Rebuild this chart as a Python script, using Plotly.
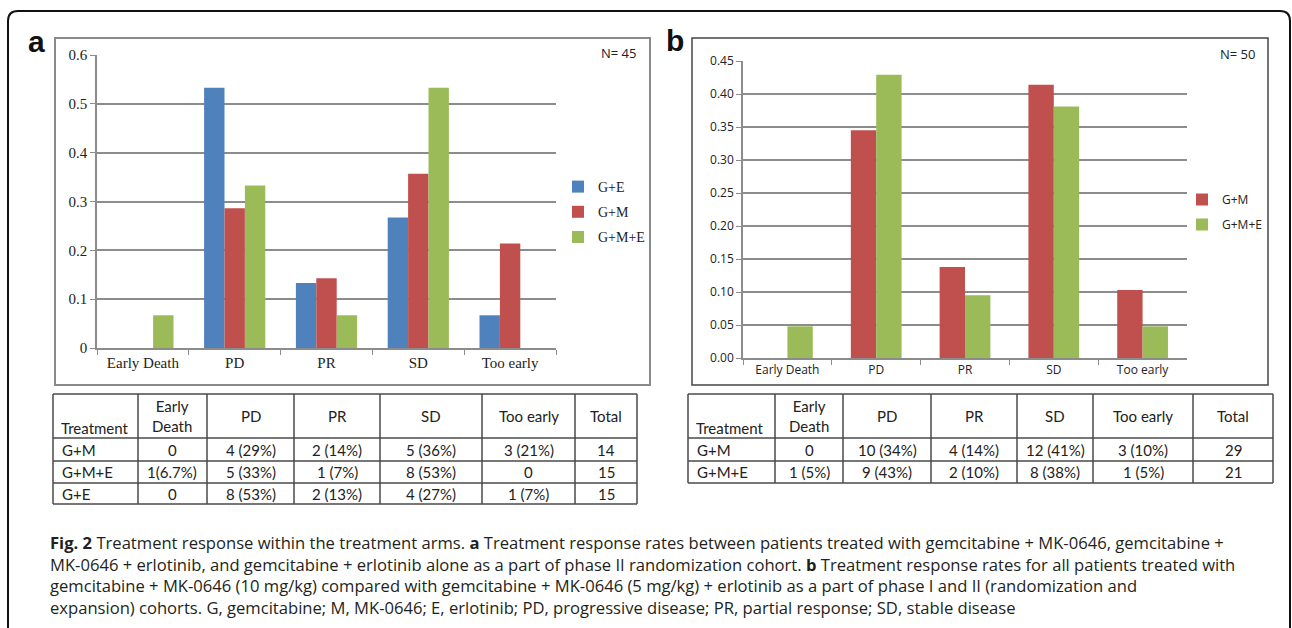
import plotly.graph_objects as go

W, H = 1292, 628

# ---------------- data ----------------
categories = ["Early Death", "PD", "PR", "SD", "Too early"]

a_names = ["G+E", "G+M", "G+M+E"]
a_ge = [0, 0.533, 0.133, 0.267, 0.067]
a_gm = [0, 0.286, 0.143, 0.357, 0.214]
a_gme = [0.067, 0.333, 0.067, 0.533, 0]
a_n_label = "N= 45"

b_names = ["G+M", "G+M+E"]
b_gm = [0, 0.345, 0.138, 0.414, 0.103]
b_gme = [0.048, 0.429, 0.095, 0.381, 0.048]
b_n_label = "N= 50"

a_yticks = [0, 0.1, 0.2, 0.3, 0.4, 0.5, 0.6]
b_yticks = [0, 0.05, 0.10, 0.15, 0.20, 0.25, 0.30, 0.35, 0.40, 0.45]

table_header = ["Treatment", "Early<br>Death", "PD", "PR", "SD", "Too early", "Total"]
table_a_rows = [
    ["G+M", "0", "4 (29%)", "2 (14%)", "5 (36%)", "3 (21%)", "14"],
    ["G+M+E", "1(6.7%)", "5 (33%)", "1 (7%)", "8 (53%)", "0", "15"],
    ["G+E", "0", "8 (53%)", "2 (13%)", "4 (27%)", "1 (7%)", "15"],
]
table_b_rows = [
    ["G+M", "0", "10 (34%)", "4 (14%)", "12 (41%)", "3 (10%)", "29"],
    ["G+M+E", "1 (5%)", "9 (43%)", "2 (10%)", "8 (38%)", "1 (5%)", "21"],
]

caption_lines = [
    "<b>Fig. 2</b> Treatment response within the treatment arms. <b>a</b> Treatment response rates between patients treated with gemcitabine + MK-0646, gemcitabine +",
    "MK-0646 + erlotinib, and gemcitabine + erlotinib alone as a part of phase II randomization cohort. <b>b</b> Treatment response rates for all patients treated with",
    "gemcitabine + MK-0646 (10 mg/kg) compared with gemcitabine + MK-0646 (5 mg/kg) + erlotinib as a part of phase I and II (randomization and",
    "expansion) cohorts. G, gemcitabine; M, MK-0646; E, erlotinib; PD, progressive disease; PR, partial response; SD, stable disease",
]

# ---------------- styles ----------------
BLUE, RED, GREEN = "#4F81BD", "#C0504D", "#9BBB59"
SERIF = "Liberation Serif"
SANS = "Open Sans"
TABLE_FONT = "Lato"


def px(x):
    return x / W


def py(y):
    return 1 - y / H


fig = go.Figure()

# panel a bars (Excel-style: gap width 150%)
wa = 1 / 4.5
for i, (name, vals, col) in enumerate(zip(a_names, [a_ge, a_gm, a_gme], [BLUE, RED, GREEN])):
    fig.add_trace(go.Bar(
        x=categories, y=vals, name=name, marker=dict(color=col, line=dict(width=0)),
        width=wa, offset=-1.5 * wa + i * wa, xaxis="x", yaxis="y",
        legend="legend", legendgroup="a" + name, hoverinfo="x+y+name",
    ))

wb = 1 / 3.5
for i, (name, vals, col) in enumerate(zip(b_names, [b_gm, b_gme], [RED, GREEN])):
    fig.add_trace(go.Bar(
        x=categories, y=vals, name=name, marker=dict(color=col, line=dict(width=0)),
        width=wb, offset=-1.0 * wb + i * wb, xaxis="x2", yaxis="y2",
        legend="legend2", legendgroup="b" + name, hoverinfo="x+y+name",
    ))

GRID = "#8c8c8c"
common_x = dict(type="category", tickson="boundaries", ticks="outside", ticklen=5,
                showline=True, linewidth=1.5, showgrid=False, zeroline=False,
                range=[-0.5, 4.5], automargin=False)
common_y = dict(showgrid=True, gridwidth=1.5, gridcolor=GRID, showline=True,
                linewidth=1.5, ticks="outside", ticklen=5, zeroline=False, automargin=False)

fig.update_layout(
    width=W, height=H, margin=dict(l=0, r=0, t=0, b=0, autoexpand=False),
    paper_bgcolor="white", plot_bgcolor="white", barmode="overlay",
    showlegend=True,
    xaxis=dict(domain=[px(97), px(556)], anchor="y", linecolor=GRID, tickcolor=GRID,
               tickfont=dict(family=SERIF, size=15, color="#222"), **common_x),
    yaxis=dict(domain=[py(348), py(55)], anchor="x", range=[0, 0.6], tickvals=a_yticks,
               ticktext=[f"{v:g}" for v in a_yticks], linecolor=GRID, tickcolor=GRID,
               tickfont=dict(family=SERIF, size=15, color="#222"), **common_y),
    xaxis2=dict(domain=[px(743), px(1187)], anchor="y2", linecolor=GRID, tickcolor=GRID,
                tickfont=dict(family=SANS, size=12, color="#222"), **common_x),
    yaxis2=dict(domain=[py(358), py(61)], anchor="x2", range=[0, 0.45], tickvals=b_yticks,
                ticktext=[f"{v:.2f}" for v in b_yticks], linecolor=GRID, tickcolor=GRID,
                tickfont=dict(family=SANS, size=12, color="#222"), **common_y),
    legend=dict(x=px(558), y=py(171), xanchor="left", yanchor="top",
                font=dict(family=SERIF, size=14, color="#222"), bgcolor="rgba(0,0,0,0)",
                tracegroupgap=4, itemwidth=30),
    legend2=dict(x=px(1182), y=py(185), xanchor="left", yanchor="top",
                 font=dict(family=SANS, size=12, color="#222"), bgcolor="rgba(0,0,0,0)",
                 tracegroupgap=6, itemwidth=30),
)

shapes = []
annotations = []

# outer rounded frame
r = 10
x0, x1, y0, ybot = 8, 1290, 11, 640
path = (f"M {px(x0)} {py(ybot)} L {px(x0)} {py(y0 + r)} "
        f"Q {px(x0)} {py(y0)} {px(x0 + r)} {py(y0)} L {px(x1 - r)} {py(y0)} "
        f"Q {px(x1)} {py(y0)} {px(x1)} {py(y0 + r)} L {px(x1)} {py(ybot)}")
shapes.append(dict(type="path", xref="paper", yref="paper", path=path,
                   line=dict(color="#111", width=2)))

# chart area boxes
shapes.append(dict(type="rect", xref="paper", yref="paper", x0=px(55), x1=px(650),
                   y0=py(385), y1=py(38), line=dict(color="#8a8a8a", width=2), layer="below"))
shapes.append(dict(type="rect", xref="paper", yref="paper", x0=px(692), x1=px(1268),
                   y0=py(385), y1=py(38), line=dict(color="#444", width=1.5), layer="below"))


def note(text, x, y, font, xanchor="center", yanchor="middle", align="center"):
    annotations.append(dict(text=text, x=px(x), y=py(y), xref="paper", yref="paper",
                            xanchor=xanchor, yanchor=yanchor, showarrow=False, font=font,
                            align=align))


# panel letters and N labels
note("<b>a</b>", 36, 41, dict(family="Liberation Sans", size=30, color="#111"))
note("<b>b</b>", 675, 40.5, dict(family="Liberation Sans", size=30, color="#111"))
note(a_n_label, 638, 53, dict(family=SANS, size=13, color="#222"), xanchor="right")
note(b_n_label, 1257, 54, dict(family=SANS, size=13, color="#222"), xanchor="right")


def add_table(col_edges, row_edges, header, rows):
    lc = "#4a4a4a"
    for x in col_edges:
        shapes.append(dict(type="line", xref="paper", yref="paper", x0=px(x), x1=px(x),
                           y0=py(row_edges[0]), y1=py(row_edges[-1]), line=dict(color=lc, width=1.5)))
    for y in row_edges:
        shapes.append(dict(type="line", xref="paper", yref="paper", x0=px(col_edges[0]),
                           x1=px(col_edges[-1]), y0=py(y), y1=py(y), line=dict(color=lc, width=1.5)))
    tf = dict(family=TABLE_FONT, size=15, color="#222")
    hy0, hy1 = row_edges[0], row_edges[1]
    for j, h in enumerate(header):
        if j == 0:
            note(h, col_edges[0] + 6, hy1 - 10, tf, xanchor="left")
        else:
            note(h, (col_edges[j] + col_edges[j + 1]) / 2, (hy0 + hy1) / 2, tf)
    for i, row in enumerate(rows):
        yc = (row_edges[i + 1] + row_edges[i + 2]) / 2
        for j, t in enumerate(row):
            if j == 0:
                note(t, col_edges[0] + 7, yc, tf, xanchor="left")
            else:
                note(t, (col_edges[j] + col_edges[j + 1]) / 2, yc, tf)


add_table([53, 138, 207, 294, 380, 482, 575, 637], [394, 438, 461, 483, 504], table_header, table_a_rows)
add_table([688, 775, 843, 931, 1017, 1093, 1193, 1273], [394, 438, 461, 483], table_header, table_b_rows)

# caption: one multi-line block
note("<br>".join(caption_lines), 48, 575, dict(family=SANS, size=16.6, color="#231f20"),
     xanchor="left", align="left")

fig.update_layout(shapes=shapes, annotations=annotations)

fig.write_html("out.html", config={"displayModeBar": False},
               post_script="document.body.style.margin='0';")
